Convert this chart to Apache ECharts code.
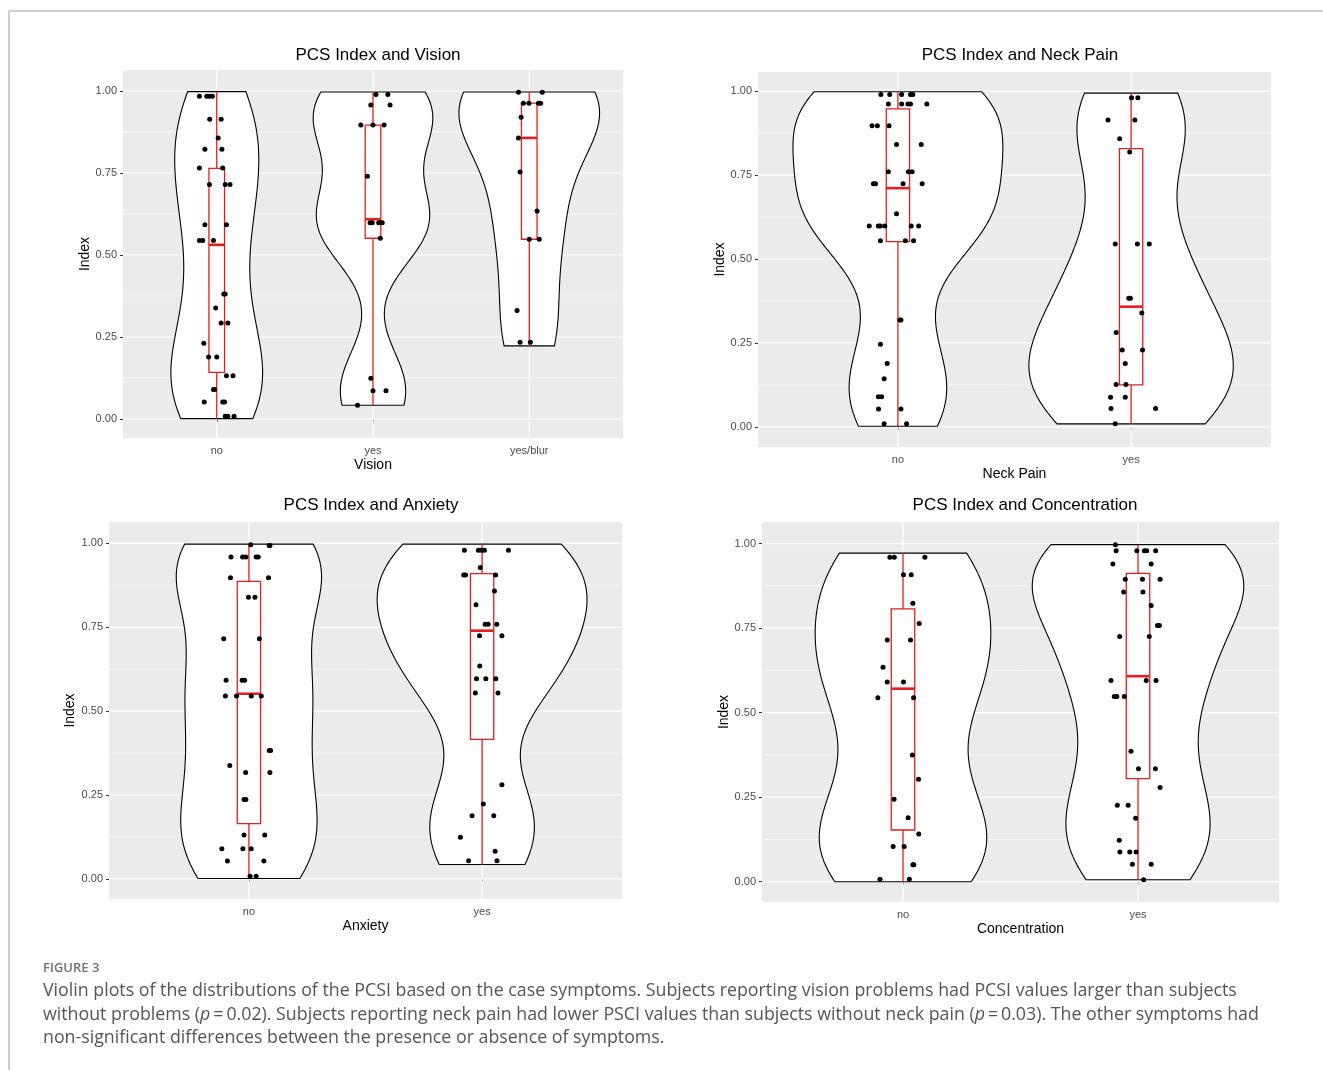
<!DOCTYPE html>
<html><head><meta charset="utf-8">
<script src="https://cdn.jsdelivr.net/npm/echarts@6/dist/echarts.min.js"></script>
<style>html,body{margin:0;padding:0;background:#fff;}#c{width:1323px;height:1070px;}</style>
</head><body><div id="c"></div>
<script>
// ---------------- DATA ----------------
const yTicks = [0, 0.25, 0.5, 0.75, 1];
const yMinorTicks = [0.125, 0.375, 0.625, 0.875];

const titles = ['PCS Index and Vision', 'PCS Index and Neck Pain', 'PCS Index and Anxiety', 'PCS Index and Concentration'];
const xNames = ['Vision', 'Neck Pain', 'Anxiety', 'Concentration'];
const visionCats = ['no', 'yes', 'yes/blur'];
const neckCats = ['no', 'yes'];
const anxietyCats = ['no', 'yes'];
const concCats = ['no', 'yes'];

// index values per group and horizontal jitter (category units)
const visionNoValues = [0.984,0.984,0.984,0.984,0.914,0.914,0.857,0.822,0.822,0.765,0.765,0.715,0.715,0.715,0.592,0.592,0.544,0.544,0.544,0.381,0.381,0.338,0.293,0.293,0.231,0.189,0.189,0.132,0.132,0.090,0.090,0.052,0.052,0.052,0.008,0.008,0.008];
const visionNoJitter = [-0.111,-0.064,-0.047,-0.028,-0.045,0.028,0.009,-0.076,0.033,-0.111,0.038,-0.047,0.054,0.085,-0.076,0.062,-0.111,-0.090,-0.021,0.045,0.054,-0.007,0.028,0.071,-0.083,-0.052,0.0,0.062,0.104,-0.021,-0.014,-0.080,0.038,0.050,0.054,0.071,0.111];
const visionYesValues = [0.989,0.989,0.957,0.957,0.896,0.896,0.896,0.740,0.598,0.598,0.598,0.598,0.598,0.551,0.124,0.086,0.086,0.042];
const visionYesJitter = [0.019,0.095,-0.014,0.109,-0.078,0,0.071,-0.036,-0.019,-0.005,0.036,0.045,0.059,0.047,-0.014,0,0.083,-0.099];
const visionBlurValues = [0.996,0.996,0.963,0.963,0.963,0.963,0.920,0.857,0.753,0.634,0.548,0.548,0.331,0.234,0.234];
const visionBlurJitter = [-0.069,0.083,-0.038,-0.002,0.059,0.073,-0.052,-0.069,-0.059,0.050,0,0.064,-0.078,-0.059,0.007];

const neckNoValues = [0.990,0.990,0.990,0.990,0.990,0.962,0.962,0.962,0.962,0.962,0.897,0.897,0.897,0.841,0.841,0.760,0.760,0.760,0.724,0.724,0.724,0.724,0.635,0.598,0.598,0.598,0.598,0.598,0.598,0.554,0.554,0.554,0.318,0.318,0.246,0.189,0.143,0.090,0.090,0.053,0.053,0.009,0.009];
const neckNoJitter = [-0.073,-0.035,0.016,0.054,0.064,-0.041,0.016,0.043,0.054,0.124,-0.111,-0.088,-0.038,-0.006,0.100,-0.041,0.045,0.061,-0.105,-0.096,0.022,0.104,-0.006,-0.123,-0.084,-0.075,-0.056,0.057,0.089,-0.075,0.032,0.067,0.008,0.013,-0.075,-0.046,-0.059,-0.084,-0.070,-0.083,0.013,-0.059,0.037];
const neckYesValues = [0.980,0.980,0.914,0.914,0.858,0.819,0.545,0.545,0.545,0.383,0.383,0.339,0.281,0.229,0.229,0.189,0.126,0.126,0.088,0.088,0.055,0.055,0.009];
const neckYesJitter = [0.002,0.029,-0.099,0.016,-0.049,-0.006,-0.068,0.027,0.078,-0.010,-0.003,0.046,-0.064,-0.038,0.049,-0.025,-0.064,-0.022,-0.088,-0.025,-0.086,0.105,-0.068];

const anxietyNoValues = [0.996,0.994,0.994,0.960,0.960,0.960,0.960,0.960,0.898,0.898,0.840,0.840,0.716,0.716,0.592,0.592,0.592,0.545,0.545,0.545,0.545,0.383,0.383,0.338,0.317,0.317,0.237,0.237,0.131,0.131,0.090,0.090,0.090,0.053,0.053,0.008,0.008];
const anxietyNoJitter = [0.008,0.087,0.090,-0.077,-0.027,-0.013,0.031,0.040,-0.079,0.084,-0.002,0.026,-0.108,0.045,-0.098,-0.029,-0.018,-0.101,-0.053,0.010,0.053,0.087,0.093,-0.082,-0.014,0.090,-0.021,-0.013,-0.021,0.068,-0.116,-0.026,0.010,-0.092,0.064,0.005,0.031];
const anxietyYesValues = [0.980,0.980,0.980,0.980,0.980,0.928,0.906,0.906,0.906,0.858,0.817,0.759,0.759,0.759,0.725,0.725,0.635,0.597,0.597,0.597,0.554,0.554,0.281,0.223,0.188,0.188,0.124,0.082,0.054,0.054];
const anxietyYesJitter = [-0.076,-0.016,-0.003,0.010,0.113,-0.008,-0.079,-0.071,0.058,0.053,-0.026,0.013,0.026,0.063,-0.011,0.085,-0.010,-0.024,0.016,0.059,-0.029,0.068,0.085,0.005,-0.043,0.050,-0.093,0.056,-0.058,0.064];

const concNoValues = [0.960,0.960,0.960,0.908,0.908,0.824,0.764,0.715,0.715,0.634,0.591,0.591,0.544,0.544,0.375,0.303,0.244,0.189,0.141,0.104,0.104,0.050,0.050,0.007,0.007];
const concNoJitter = [-0.056,-0.037,0.093,0.002,0.035,0.042,0.069,-0.067,0.032,-0.085,-0.067,0.002,-0.107,0.045,0.040,0.066,-0.038,0.022,0.067,-0.042,0.005,0.042,0.046,-0.098,0.027];
const concYesValues = [0.997,0.979,0.979,0.979,0.979,0.979,0.940,0.940,0.895,0.895,0.895,0.857,0.857,0.817,0.758,0.758,0.725,0.725,0.595,0.595,0.595,0.548,0.548,0.548,0.386,0.334,0.334,0.279,0.226,0.226,0.188,0.123,0.088,0.088,0.088,0.052,0.052,0.006];
const concYesJitter = [-0.096,-0.093,-0.005,0.027,0.037,0.075,-0.107,0.056,-0.054,0.019,0.094,-0.061,0.021,0.056,0.083,0.091,-0.078,0.048,-0.115,0.035,0.077,-0.101,-0.090,-0.058,-0.030,0.002,0.074,0.094,-0.088,-0.042,-0.010,-0.080,-0.077,-0.035,-0.008,-0.024,0.056,0.024];

// box statistics: [lower whisker, Q1, median, Q3, upper whisker]
const visionBox = [[0.001,0.142,0.531,0.764,0.998],[0.042,0.551,0.609,0.896,0.997],[0.223,0.548,0.857,0.963,0.997]];
const neckBox = [[0.002,0.552,0.711,0.947,0.998],[0.009,0.125,0.358,0.829,0.994]];
const anxietyBox = [[0.001,0.165,0.552,0.887,0.998],[0.043,0.416,0.740,0.910,0.998]];
const concBox = [[0.000,0.153,0.571,0.807,0.972],[0.006,0.305,0.608,0.912,0.997]];

// ---------------- LAYOUT ----------------
const panels = [
  {cats: visionCats, vals:[visionNoValues,visionYesValues,visionBlurValues], jit:[visionNoJitter,visionYesJitter,visionBlurJitter], box: visionBox,
   grid:{left:123, top:70, width:500, height:368}, ymin:-0.058, ymax:1.064, titleX:373, titleY:42, yNameGap:30},
  {cats: neckCats, vals:[neckNoValues,neckYesValues], jit:[neckNoJitter,neckYesJitter], box: neckBox,
   grid:{left:758, top:72, width:513, height:375}, ymin:-0.06, ymax:1.057, titleX:1015, titleY:42, yNameGap:30},
  {cats: anxietyCats, vals:[anxietyNoValues,anxietyYesValues], jit:[anxietyNoJitter,anxietyYesJitter], box: anxietyBox,
   grid:{left:109, top:522, width:513, height:377}, ymin:-0.06, ymax:1.064, titleX:366, titleY:492, yNameGap:32},
  {cats: concCats, vals:[concNoValues,concYesValues], jit:[concNoJitter,concYesJitter], box: concBox,
   grid:{left:762, top:522, width:517, height:380}, ymin:-0.06, ymax:1.064, titleX:1020, titleY:492, yNameGap:31}
];

// ---------------- STATS ----------------
function quantile(sorted, p){const h=(sorted.length-1)*p;const lo=Math.floor(h);const hi=Math.ceil(h);return sorted[lo]+(sorted[hi]-sorted[lo])*(h-lo);}
function bwNrd0(x){
  const n=x.length; const m=x.reduce((a,b)=>a+b,0)/n;
  const sd=Math.sqrt(x.reduce((a,b)=>a+(b-m)*(b-m),0)/(n-1));
  const s=[...x].sort((a,b)=>a-b); const iqr=quantile(s,0.75)-quantile(s,0.25);
  let lo=Math.min(sd, iqr/1.34); if(!(lo>0)) lo=sd||Math.abs(s[0])||1;
  return 0.9*lo*Math.pow(n,-0.2);
}
function dens(x,bw,y){let s=0;for(const v of x){const z=(y-v)/bw;s+=Math.exp(-0.5*z*z);}return s/(x.length*bw*Math.sqrt(2*Math.PI));}
const NSTEP=160;
panels.forEach(p=>{
  p.profiles = p.vals.map((v,gi)=>{
    const bw=bwNrd0(v); const lo=p.box[gi][0], hi=p.box[gi][4];
    const pts=[]; for(let i=0;i<=NSTEP;i++){const y=lo+(hi-lo)*i/NSTEP; pts.push([y,dens(v,bw,y)]);}
    return pts;
  });
  p.maxD = Math.max(...p.profiles.map(pr=>Math.max(...pr.map(q=>q[1]))));
});

// ---------------- OPTION ----------------
const grids=[], xAxes=[], yAxes=[], series=[], titleArr=[];
const BG='#EBEBEB', RED='#E41F1F';
const sans='Liberation Sans, Arial, sans-serif';
panels.forEach((p,pi)=>{
  grids.push(Object.assign({containLabel:false, backgroundColor:BG, show:true, borderWidth:0}, p.grid));
  titleArr.push({text:titles[pi], left:p.titleX, top:p.titleY, textAlign:'center',
    textStyle:{fontFamily:sans, fontSize:17, fontWeight:'normal', color:'#000'}});
  const n=p.cats.length;
  const catPos=p.cats.map((c,i)=>i+1);
  xAxes.push({type:'value', gridIndex:pi, min:0.4, max:n+0.6, splitLine:{show:false}, axisLine:{show:false},
    axisTick:{show:true, customValues:catPos, length:3, lineStyle:{color:'#333', width:1}},
    axisLabel:{customValues:catPos, formatter:v=>p.cats[Math.round(v)-1], color:'#4D4D4D', fontSize:11, margin:7, fontFamily:sans},
    name:xNames[pi], nameLocation:'middle', nameGap:20,
    nameTextStyle:{fontSize:14, color:'#000', fontFamily:sans}});
  yAxes.push({type:'value', gridIndex:pi, min:p.ymin, max:p.ymax, splitLine:{show:false}, axisLine:{show:false},
    axisTick:{show:true, customValues:yTicks, length:3, lineStyle:{color:'#333', width:1}},
    axisLabel:{customValues:yTicks, formatter:v=>v.toFixed(2), color:'#4D4D4D', fontSize:11, margin:6, fontFamily:sans},
    name:'Index', nameLocation:'middle', nameGap:p.yNameGap, nameRotate:90,
    nameTextStyle:{fontSize:14, color:'#000', fontFamily:sans}});

  // grid lines
  series.push({type:'custom', xAxisIndex:pi, yAxisIndex:pi, silent:true, z:1, clip:false, data:[[0]],
    renderItem:(params,api)=>{
      const ch=[]; const x0=0.4, x1=n+0.6;
      yMinorTicks.forEach(v=>{const a=api.coord([x0,v]),b=api.coord([x1,v]);ch.push({type:'line',shape:{x1:a[0],y1:a[1],x2:b[0],y2:b[1]},style:{stroke:'#fff',lineWidth:0.6}});});
      yTicks.forEach(v=>{const a=api.coord([x0,v]),b=api.coord([x1,v]);ch.push({type:'line',shape:{x1:a[0],y1:a[1],x2:b[0],y2:b[1]},style:{stroke:'#fff',lineWidth:1.2}});});
      catPos.forEach(c=>{const a=api.coord([c,p.ymin]),b=api.coord([c,p.ymax]);ch.push({type:'line',shape:{x1:a[0],y1:a[1],x2:b[0],y2:b[1]},style:{stroke:'#fff',lineWidth:1.2}});});
      return {type:'group',children:ch};
    }});

  // violins
  series.push({type:'custom', xAxisIndex:pi, yAxisIndex:pi, silent:true, z:2, clip:false, data:catPos.map(c=>[c]),
    renderItem:(params,api)=>{
      const gi=params.dataIndex; const c=gi+1; const prof=p.profiles[gi];
      const right=[], left=[];
      prof.forEach(([y,d])=>{const w=0.45*d/p.maxD; right.push(api.coord([c+w,y])); left.push(api.coord([c-w,y]));});
      const pts=right.concat(left.reverse());
      return {type:'polygon', shape:{points:pts}, style:{fill:'#fff', stroke:'#000', lineWidth:1.1}};
    }});

  // boxplots
  series.push({type:'custom', xAxisIndex:pi, yAxisIndex:pi, silent:true, z:3, clip:false, data:catPos.map(c=>[c]),
    renderItem:(params,api)=>{
      const gi=params.dataIndex; const c=gi+1; const b=p.box[gi]; const hw=0.05;
      const P=(x,y)=>api.coord([x,y]);
      const w1a=P(c,b[0]), w1b=P(c,b[1]), w2a=P(c,b[3]), w2b=P(c,b[4]);
      const tl=P(c-hw,b[3]), br=P(c+hw,b[1]);
      const ml=P(c-hw,b[2]), mr=P(c+hw,b[2]);
      const st={stroke:RED, lineWidth:1.3, fill:null};
      return {type:'group', children:[
        {type:'line', shape:{x1:w1a[0],y1:w1a[1],x2:w1b[0],y2:w1b[1]}, style:st},
        {type:'line', shape:{x1:w2a[0],y1:w2a[1],x2:w2b[0],y2:w2b[1]}, style:st},
        {type:'rect', shape:{x:tl[0], y:tl[1], width:br[0]-tl[0], height:br[1]-tl[1]}, style:{stroke:RED, lineWidth:1.3, fill:'#fff'}},
        {type:'line', shape:{x1:ml[0],y1:ml[1],x2:mr[0],y2:mr[1]}, style:{stroke:RED, lineWidth:2.6}}
      ]};
    }});

  // jittered points
  const pts=[];
  p.vals.forEach((v,gi)=>v.forEach((y,k)=>pts.push([gi+1+p.jit[gi][k], y])));
  series.push({type:'scatter', xAxisIndex:pi, yAxisIndex:pi, z:4, symbolSize:5, itemStyle:{color:'#000', opacity:1}, silent:true, data:pts});
});

const capFont='"Open Sans", "Noto Sans", sans-serif';
const captionLines=[
  'Violin plots of the distributions of the PCSI based on the case symptoms. Subjects reporting vision problems had PCSI values larger than subjects',
  'without problems (p\u2009=\u20090.02). Subjects reporting neck pain had lower PSCI values than subjects without neck pain (p\u2009=\u20090.03). The other symptoms had',
  'non-significant differences between the presence or absence of symptoms.'
];
const graphics=[
  {type:'line', shape:{x1:9, y1:11, x2:1323, y2:11}, style:{stroke:'#BDBDBD', lineWidth:1.5}, silent:true},
  {type:'line', shape:{x1:9, y1:11, x2:9, y2:1070}, style:{stroke:'#BDBDBD', lineWidth:1.5}, silent:true},
  {type:'text', left:43, top:962, style:{text:'FIGURE 3', fill:'#707070', font:'600 13px '+capFont}, silent:true}
];
captionLines.forEach((t,i)=>{
  const txt=t.replace(/\(p\u2009/g,'({i|p}\u2009');
  graphics.push({type:'text', left:43, top:982+i*23.5, silent:true,
    style:{text:txt, fill:'#555', font:'17.8px '+capFont,
      rich:{i:{fontStyle:'italic', fontSize:17.8, fontFamily:capFont, fill:'#555'}}}});
});

const chart=echarts.init(document.getElementById('c'), null, {renderer:'canvas'});
chart.setOption({animation:false, backgroundColor:'#fff', title:titleArr, grid:grids, xAxis:xAxes, yAxis:yAxes, series:series, graphic:graphics});
</script></body></html>
